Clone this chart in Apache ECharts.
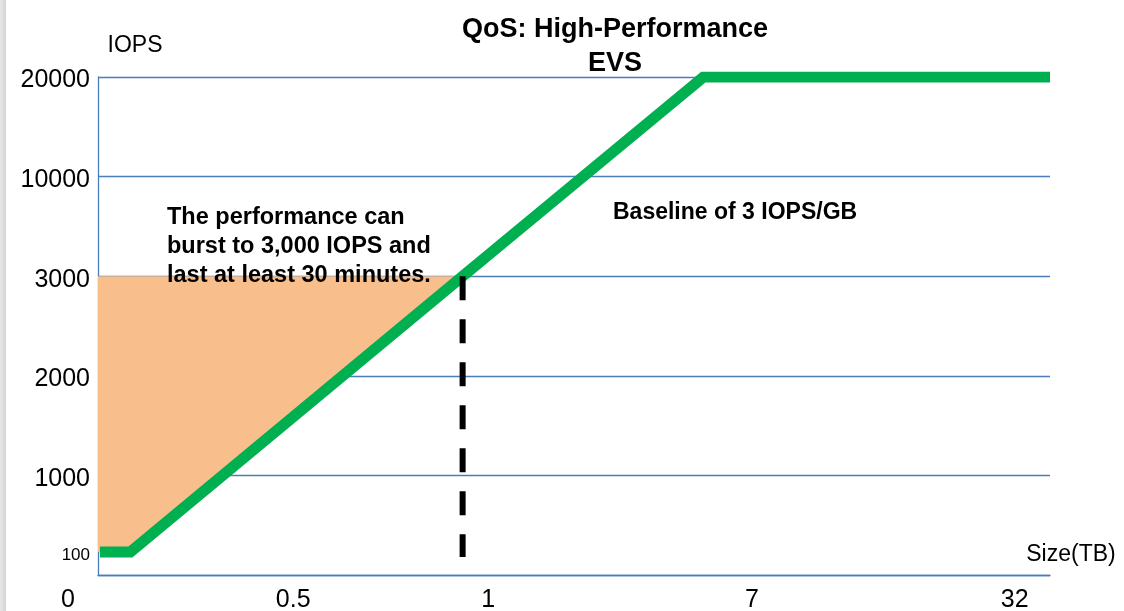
<!DOCTYPE html>
<html>
<head>
<meta charset="utf-8">
<script src="https://cdn.jsdelivr.net/npm/echarts@6/dist/echarts.min.js"></script>
<style>
html,body{margin:0;padding:0;background:#fff;}
#chart{width:1124px;height:611px;}
</style>
</head>
<body>
<div id="chart"></div>
<script>
// ---- axis scales (non-linear schematic axes) ----
const iopsTicks   = [0, 100, 1000, 2000, 3000, 10000, 20000];
const iopsTickPos = [0, 23, 100, 200, 300, 400, 500];
const sizeTickLabels = ['0', '0.5', '1', '7', '32'];
const sizeTickPos    = [0, 20.5, 41, 68.7, 96.3];

// ---- series data ----
const baselineSize = [0.2, 3.4, 38.3, 63.6, 100];
const baselineIops = [100, 100, 3000, 20000, 20000];
const burstSize = [0, 38.3, 3.4, 0];
const burstIops = [3000, 3000, 100, 100];
const burstLineSize = [38.3, 38.3];
const burstLineIops = [3000, 0];

function iopsPos(v) {
  for (let i = 1; i < iopsTicks.length; i++) {
    if (v <= iopsTicks[i]) {
      const t = (v - iopsTicks[i - 1]) / (iopsTicks[i] - iopsTicks[i - 1]);
      return iopsTickPos[i - 1] + t * (iopsTickPos[i] - iopsTickPos[i - 1]);
    }
  }
  return iopsTickPos[iopsTickPos.length - 1];
}
const zip = (xs, ys, f) => xs.map((x, i) => [x, f(ys[i])]);
const baselineData = zip(baselineSize, baselineIops, iopsPos);
const burstPoly = zip(burstSize, burstIops, iopsPos);
const dashData = [[burstLineSize[0], iopsPos(burstLineIops[0])], [burstLineSize[1], 18]];

const FONT = '"Liberation Sans", Arial, sans-serif';
const BLUE = '#4a7ebb';

const chart = echarts.init(document.getElementById('chart'));
chart.setOption({
  animation: false,
  backgroundColor: '#fff',
  title: {
    text: 'QoS: High-Performance\nEVS',
    left: 610, top: 8, textAlign: 'center',
    textStyle: {fontFamily: FONT, fontSize: 27, fontWeight: 'bold', color: '#000', lineHeight: 34}
  },
  grid: {left: 98, right: 74, top: 77, bottom: 36, containLabel: false, outerBoundsMode: 'none'},
  xAxis: {
    type: 'value', min: 0, max: 100,
    axisLine: {show: true, lineStyle: {color: BLUE, width: 1.3}},
    axisTick: {show: false},
    splitLine: {show: false},
    axisLabel: {
      customValues: sizeTickPos,
      margin: 13,
      fontFamily: FONT, fontSize: 25, color: '#000',
      formatter: v => {
        const i = sizeTickPos.indexOf(v);
        const s = i >= 0 ? sizeTickLabels[i] : '';
        return i === 0 ? '{z|' + s + '}' : s;
      },
      rich: {z: {fontFamily: FONT, fontSize: 25, color: '#000', padding: [0, 60, 0, 0]}}
    }
  },
  yAxis: {
    type: 'value', min: 0, max: 500, interval: 100,
    axisLine: {show: true, lineStyle: {color: BLUE, width: 1.3}},
    axisTick: {show: false},
    splitLine: {show: true, lineStyle: {color: BLUE, width: 1.3}},
    axisLabel: {
      customValues: iopsTickPos.slice(1),
      margin: 8,
      padding: [7, 0, 0, 0],
      fontFamily: FONT, fontSize: 25, color: '#000',
      formatter: v => {
        const i = iopsTickPos.indexOf(v);
        const s = i >= 0 ? String(iopsTicks[i]) : '';
        return iopsTicks[i] === 100 ? '{s|' + s + '}' : s;
      },
      rich: {s: {fontFamily: FONT, fontSize: 17, color: '#000'}}
    }
  },
  series: [
    {
      type: 'custom', name: 'burst', silent: true, z: 2,
      data: [[0, 0]],
      renderItem: (params, api) => ({
        type: 'polygon',
        shape: {points: burstPoly.map(p => api.coord(p))},
        style: {fill: '#F8BF8C'}
      })
    },
    {
      type: 'line', name: 'baseline', data: baselineData, symbol: 'none', z: 3,
      lineStyle: {color: '#00b050', width: 11, cap: 'butt', join: 'miter'}
    },
    {
      type: 'line', name: 'burst limit', data: dashData, symbol: 'none', z: 4,
      lineStyle: {color: '#000', width: 6, type: [24, 19], cap: 'butt'}
    }
  ],
  graphic: [
    {type: 'rect', left: 0, top: 0, shape: {width: 6, height: 611},
     style: {fill: new echarts.graphic.LinearGradient(0, 0, 1, 0, [{offset: 0, color: '#e8e8e8'}, {offset: 1, color: '#d4d4d4'}])}},
    {type: 'text', x: 135, y: 46, style: {text: 'IOPS', font: '23px ' + FONT, fill: '#000', textAlign: 'center', textVerticalAlign: 'middle'}},
    {type: 'text', x: 1071, y: 555, style: {text: 'Size(TB)', font: '23px ' + FONT, fill: '#000', textAlign: 'center', textVerticalAlign: 'middle'}},
    {type: 'text', x: 167, y: 203.5, z: 10, style: {text: 'The performance can\nburst to 3,000 IOPS and\nlast at least 30 minutes.', font: 'bold 23.5px ' + FONT, lineHeight: 29, fill: '#000', textVerticalAlign: 'top'}},
    {type: 'text', x: 613, y: 198.5, z: 10, style: {text: 'Baseline of 3 IOPS/GB', font: 'bold 23px ' + FONT, lineHeight: 29, fill: '#000', textVerticalAlign: 'top'}}
  ]
});
</script>
</body>
</html>
